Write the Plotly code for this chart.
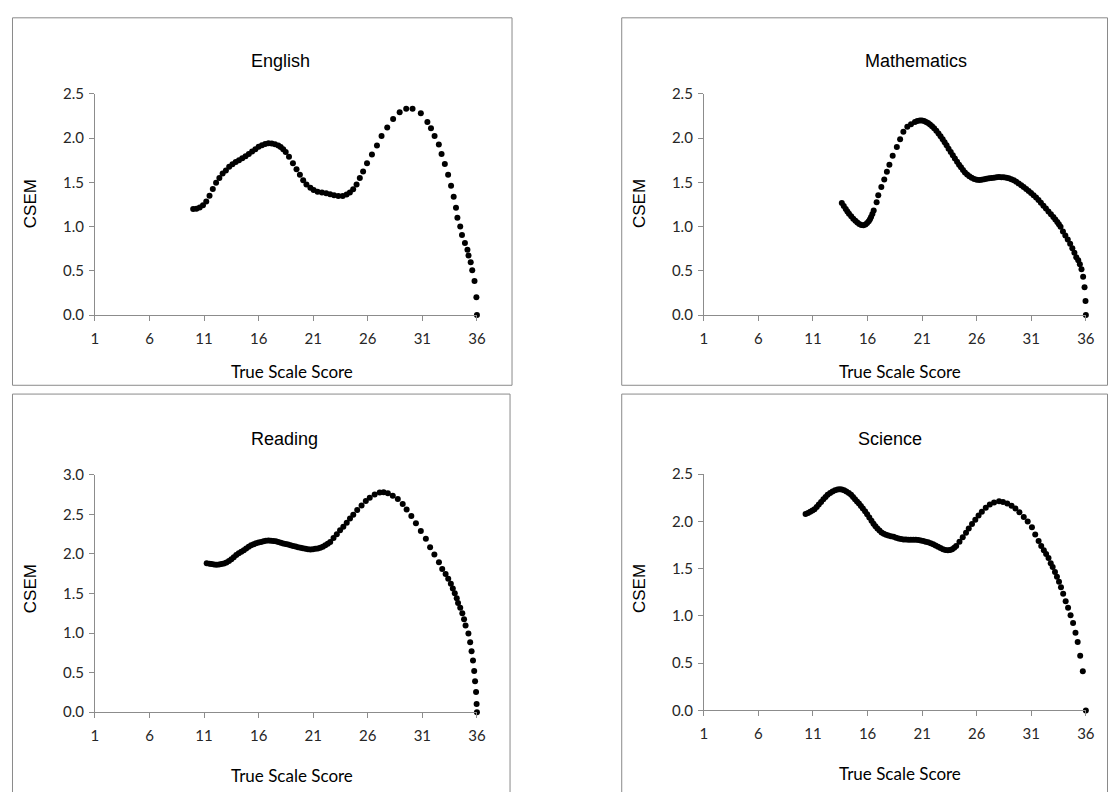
import plotly.graph_objects as go

# ---------------- data ----------------
english_x = [10.0, 10.3, 10.6, 10.9, 11.2, 11.5, 11.8, 12.1, 12.4, 12.7, 13.0, 13.3, 13.6, 13.9,
             14.2, 14.5, 14.8, 15.1, 15.4, 15.7, 16.0, 16.3, 16.6, 16.9, 17.2, 17.5, 17.8,
             18.02, 18.25, 18.48, 18.78, 19.14, 19.47, 19.78, 20.08, 20.38, 20.74, 21.04, 21.40,
             21.80, 22.19, 22.55, 22.91, 23.30, 23.70, 24.06, 24.36, 24.66, 24.97,
             25.27, 25.57, 25.93, 26.38, 26.84, 27.26, 27.78, 28.32, 28.92, 29.52, 30.10, 30.86,
             31.46, 31.79, 32.12, 32.51, 32.76, 33.06, 33.36, 33.63, 33.87, 34.08, 34.21,
             34.47, 34.63, 34.90, 35.13, 35.23, 35.43, 35.57, 35.78, 35.95, 36.0]
english_y = [1.200, 1.203, 1.215, 1.240, 1.285, 1.350, 1.425, 1.495, 1.550, 1.600, 1.635, 1.675, 1.705, 1.730,
             1.750, 1.772, 1.795, 1.820, 1.850, 1.875, 1.902, 1.920, 1.932, 1.942, 1.940, 1.930, 1.915,
             1.899, 1.875, 1.844, 1.788, 1.715, 1.648, 1.587, 1.524, 1.476, 1.439, 1.413, 1.395,
             1.384, 1.377, 1.366, 1.355, 1.347, 1.347, 1.362, 1.384, 1.421, 1.476,
             1.549, 1.623, 1.715, 1.814, 1.917, 2.023, 2.119, 2.215, 2.292, 2.332, 2.332, 2.281,
             2.182, 2.111, 2.023, 1.928, 1.821, 1.708, 1.587, 1.461, 1.336, 1.212, 1.101,
             1.000, 0.904, 0.816, 0.739, 0.673, 0.596, 0.507, 0.386, 0.202, 0.0]

math_x = [13.64, 13.82, 14.00, 14.15, 14.30, 14.50, 14.69, 14.88, 15.06, 15.24,
          15.42, 15.62, 15.81, 15.96, 16.11, 16.22, 16.32, 16.44, 16.56, 16.83,
          16.98, 17.26, 17.53, 17.77, 18.00, 18.30, 18.68, 18.98, 19.28, 19.64,
          19.98, 20.34, 20.56, 20.79, 20.98, 21.18, 21.36, 21.54, 21.72, 21.91,
          22.10, 22.30, 22.50, 22.69, 22.88, 23.06, 23.24, 23.42, 23.62, 23.81,
          24.00, 24.20, 24.38, 24.56, 24.74, 24.92, 25.12, 25.32, 25.54, 25.77,
          26.00, 26.23, 26.45, 26.68, 26.90, 27.13, 27.36, 27.59, 27.82, 28.04,
          28.27, 28.49, 28.72, 28.94, 29.17, 29.40, 29.62, 29.85, 30.08, 30.30,
          30.53, 30.76, 30.98, 31.21, 31.44, 31.66, 31.88, 32.11, 32.34, 32.57,
          32.80, 33.02, 33.20, 33.38, 33.53, 33.68, 33.90, 34.12, 34.34, 34.56,
          34.76, 34.95, 35.12, 35.30, 35.45, 35.60, 35.75, 35.88, 35.97, 36.0]
math_y = [1.267, 1.232, 1.200, 1.172, 1.145, 1.116, 1.090, 1.066, 1.046, 1.030,
          1.017, 1.016, 1.024, 1.040, 1.061, 1.083, 1.108, 1.143, 1.182, 1.274,
          1.355, 1.447, 1.531, 1.620, 1.700, 1.800, 1.899, 1.987, 2.072, 2.127,
          2.156, 2.182, 2.193, 2.200, 2.199, 2.193, 2.183, 2.171, 2.153, 2.134,
          2.110, 2.083, 2.053, 2.020, 1.988, 1.954, 1.918, 1.880, 1.843, 1.807,
          1.770, 1.733, 1.700, 1.670, 1.640, 1.612, 1.588, 1.568, 1.551, 1.538,
          1.530, 1.527, 1.530, 1.535, 1.541, 1.546, 1.550, 1.553, 1.557, 1.560,
          1.559, 1.557, 1.552, 1.546, 1.536, 1.524, 1.507, 1.487, 1.468, 1.447,
          1.425, 1.402, 1.379, 1.355, 1.328, 1.300, 1.269, 1.237, 1.205, 1.171,
          1.140, 1.108, 1.081, 1.053, 1.026, 0.998, 0.945, 0.900, 0.855, 0.805,
          0.755, 0.705, 0.655, 0.620, 0.575, 0.518, 0.434, 0.316, 0.158, 0.0]

reading_x = [11.24, 11.50, 11.69, 11.92, 12.14, 12.37, 12.59, 12.82, 13.05, 13.28,
             13.50, 13.72, 13.95, 14.18, 14.41, 14.64, 14.86, 15.09, 15.31, 15.54,
             15.76, 15.99, 16.22, 16.45, 16.67, 16.90, 17.12, 17.35, 17.58, 17.80,
             18.03, 18.25, 18.48, 18.70, 18.93, 19.16, 19.39, 19.61, 19.84, 20.06,
             20.29, 20.52, 20.75, 20.97, 21.20, 21.42, 21.65, 21.88, 22.11, 22.33,
             22.56, 22.86, 23.16, 23.46, 23.76, 24.07, 24.37, 24.67, 25.03, 25.43,
             25.82, 26.18, 26.63, 27.09, 27.45, 27.84, 28.29, 28.75, 29.20, 29.56,
             29.99, 30.41, 30.86, 31.32, 31.71, 32.10, 32.52, 32.82, 33.13, 33.37,
             33.61, 33.79, 33.97, 34.15, 34.27, 34.47, 34.66, 34.82, 34.96, 35.22,
             35.38, 35.51, 35.64, 35.75, 35.83, 35.92, 35.97, 36.0]
reading_y = [1.884, 1.878, 1.872, 1.867, 1.864, 1.866, 1.872, 1.880, 1.893, 1.912,
             1.934, 1.960, 1.988, 2.008, 2.028, 2.048, 2.069, 2.090, 2.111, 2.124,
             2.136, 2.145, 2.152, 2.160, 2.168, 2.169, 2.168, 2.165, 2.160, 2.151,
             2.141, 2.134, 2.127, 2.119, 2.111, 2.102, 2.094, 2.086, 2.078, 2.071,
             2.065, 2.060, 2.057, 2.059, 2.065, 2.070, 2.078, 2.093, 2.111, 2.130,
             2.152, 2.201, 2.250, 2.300, 2.345, 2.394, 2.448, 2.497, 2.555, 2.612,
             2.670, 2.711, 2.752, 2.777, 2.781, 2.768, 2.735, 2.694, 2.633, 2.563,
             2.481, 2.390, 2.291, 2.192, 2.086, 1.995, 1.896, 1.810, 1.748, 1.687,
             1.625, 1.563, 1.502, 1.440, 1.379, 1.320, 1.250, 1.175, 1.097, 0.995,
             0.884, 0.769, 0.654, 0.522, 0.390, 0.255, 0.103, 0.0]

science_x = [10.32, 10.54, 10.75, 10.95, 11.14, 11.34, 11.53, 11.74, 11.95, 12.15,
             12.34, 12.57, 12.79, 13.02, 13.25, 13.45, 13.64, 13.85, 14.06, 14.28,
             14.49, 14.67, 14.85, 15.03, 15.21, 15.39, 15.57, 15.77, 15.96, 16.16,
             16.36, 16.54, 16.72, 16.90, 17.09, 17.28, 17.48, 17.69, 17.90, 18.14,
             18.38, 18.61, 18.84, 19.06, 19.29, 19.51, 19.74, 19.96, 20.19, 20.42,
             20.65, 20.87, 21.10, 21.32, 21.55, 21.78, 22.01, 22.23, 22.46, 22.68,
             22.91, 23.13, 23.36, 23.56, 23.75, 23.94, 24.12, 24.42, 24.72, 25.02,
             25.27, 25.57, 25.87, 26.17, 26.47, 26.83, 27.20, 27.59, 28.05, 28.41,
             28.80, 29.19, 29.55, 29.91, 30.31, 30.67, 31.06, 31.36, 31.67, 31.91,
             32.15, 32.36, 32.58, 32.78, 32.96, 33.17, 33.35, 33.54, 33.72, 33.92,
             34.15, 34.37, 34.60, 34.83, 35.05, 35.25, 35.48, 35.72, 36.0]
science_y = [2.079, 2.090, 2.103, 2.115, 2.130, 2.153, 2.179, 2.206, 2.234, 2.259,
             2.282, 2.301, 2.316, 2.329, 2.337, 2.340, 2.337, 2.329, 2.316, 2.301,
             2.282, 2.259, 2.234, 2.212, 2.189, 2.164, 2.138, 2.108, 2.076, 2.041,
             2.006, 1.976, 1.948, 1.924, 1.903, 1.884, 1.870, 1.859, 1.850, 1.843,
             1.838, 1.828, 1.820, 1.814, 1.810, 1.808, 1.807, 1.807, 1.807, 1.805,
             1.803, 1.798, 1.793, 1.786, 1.779, 1.769, 1.758, 1.745, 1.731, 1.718,
             1.706, 1.699, 1.696, 1.698, 1.706, 1.721, 1.741, 1.786, 1.834, 1.879,
             1.924, 1.972, 2.017, 2.062, 2.103, 2.145, 2.179, 2.200, 2.213, 2.207,
             2.189, 2.165, 2.138, 2.096, 2.048, 2.000, 1.938, 1.861, 1.793, 1.741,
             1.696, 1.655, 1.613, 1.558, 1.517, 1.465, 1.414, 1.362, 1.303, 1.234,
             1.155, 1.086, 1.007, 0.924, 0.821, 0.724, 0.579, 0.414, 0.0]

x_ticks = [1, 6, 11, 16, 21, 26, 31, 36]
titles = ["English", "Mathematics", "Reading", "Science"]
x_title = "True Scale Score"
y_title = "CSEM"

# ---------------- layout helpers (pixel geometry) ----------------
W, H = 1117, 792
def fx(p):
    return p / W
def fy(p):
    return 1 - p / H

panels = [
    dict(x=english_x, y=english_y, px=(92, 478.5, 312.2, 85.8), ymax=2.5,
         box=(8.6, 8, 514, 384), tpos=(280, 52), xl=(291, 370), yl=(27, 198)),
    dict(x=math_x, y=math_y, px=(708.1, 1094.6, 312.2, 85.8), ymax=2.5,
         box=(625, 8, 1116.5, 384), tpos=(923, 52), xl=(907, 370), yl=(643, 198)),
    dict(x=reading_x, y=reading_y, px=(92, 478.5, 718.5, 475.7), ymax=3.0,
         box=(8.6, 393, 512, 830), tpos=(284, 439), xl=(291, 783), yl=(27, 592)),
    dict(x=science_x, y=science_y, px=(708.1, 1094.6, 716.7, 475), ymax=2.5,
         box=(625, 393, 1116.5, 830), tpos=(896, 439), xl=(907, 781), yl=(643, 592)),
]

fig = go.Figure()
layout = dict(
    width=W, height=H, margin=dict(l=0, r=0, t=0, b=0),
    paper_bgcolor="white", plot_bgcolor="white", showlegend=False,
    shapes=[], annotations=[],
)
axis_color = "#8c8c8c"
tick_font = dict(family="Lato, Liberation Sans, sans-serif", size=15, color="#262626")

for i, p in enumerate(panels):
    n = "" if i == 0 else str(i + 1)
    fig.add_trace(go.Scatter(
        x=p["x"], y=p["y"], mode="markers",
        marker=dict(color="black", size=6, line=dict(width=0)),
        xaxis="x" + n, yaxis="y" + n, cliponaxis=False, hoverinfo="x+y",
    ))
    l, r, b, t = p["px"]
    layout["xaxis" + n] = dict(
        domain=[fx(l), fx(r)], anchor="y" + n, range=[1, 36],
        tickmode="array", tickvals=x_ticks, ticktext=[str(v) for v in x_ticks],
        showline=True, linecolor=axis_color, linewidth=1, ticks="outside",
        ticklen=5, tickcolor=axis_color, showgrid=False, zeroline=False,
        tickfont=tick_font, ticklabelstandoff=5, fixedrange=True,
    )
    layout["yaxis" + n] = dict(
        domain=[fy(b), fy(t)], anchor="x" + n, range=[0, p["ymax"]],
        dtick=0.5, tick0=0, tickformat=".1f",
        showline=True, linecolor=axis_color, linewidth=1, ticks="outside",
        ticklen=5, tickcolor=axis_color, showgrid=False, zeroline=False,
        tickfont=tick_font, ticklabelstandoff=2, fixedrange=True,
    )
    bx0, by0, bx1, by1 = p["box"]
    layout["shapes"].append(dict(
        type="rect", xref="paper", yref="paper",
        x0=fx(bx0), x1=fx(bx1), y0=fy(by1), y1=fy(by0),
        line=dict(color="#8a8a8a", width=1), fillcolor="rgba(0,0,0,0)", layer="below",
    ))
    layout["annotations"].append(dict(
        text=titles[i], xref="paper", yref="paper", x=fx(p["tpos"][0]), y=fy(p["tpos"][1]),
        xanchor="center", yanchor="middle", showarrow=False,
        font=dict(family="Liberation Sans, Arial, sans-serif", size=18, color="black"),
    ))
    layout["annotations"].append(dict(
        text=x_title, xref="paper", yref="paper", x=fx(p["xl"][0]), y=fy(p["xl"][1]),
        xanchor="center", yanchor="middle", showarrow=False,
        font=dict(family="Lato, Liberation Sans, sans-serif", size=17, color="black"),
    ))
    layout["annotations"].append(dict(
        text=y_title, xref="paper", yref="paper", x=fx(p["yl"][0]), y=fy(p["yl"][1]),
        xanchor="center", yanchor="middle", showarrow=False, textangle=-90,
        font=dict(family="Liberation Sans, Arial, sans-serif", size=17, color="black"),
    ))

fig.update_layout(**layout)
fig.write_html("out.html")
